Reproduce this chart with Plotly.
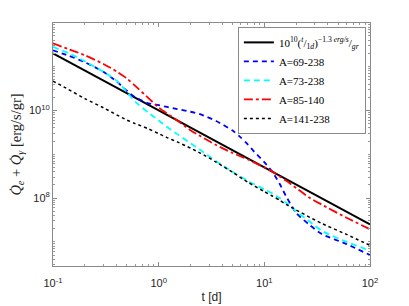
import plotly.graph_objects as go

# ---- data ----
t_fit = [0.1, 1.0, 10.0, 100.0]
q_fit = [2.0e11, 1.0e10, 5.0e8, 2.5e7]

t_grid = [0.1, 0.14, 0.2, 0.3, 0.4, 0.5, 0.6, 0.8, 1.0, 1.2, 1.5, 2.0, 2.5, 3.5,
          5.0, 7.0, 10.0, 12.0, 14.0, 16.0, 20.0, 27.0, 35.0, 60.0, 100.0]

q_85_140 = [3.39e11, 2.51e11, 1.82e11, 1.15e11, 7.76e10, 5.37e10, 3.63e10, 1.91e10,
            1.17e10, 8.51e9, 5.89e9, 3.55e9, 2.57e9, 1.62e9, 1.07e9, 7.59e8, 5.01e8,
            3.98e8, 3.09e8, 2.51e8, 1.70e8, 1.00e8, 7.08e7, 3.55e7, 1.95e7]

t_blue = [0.1, 0.14, 0.2, 0.3, 0.4, 0.5, 0.6, 0.8, 1.0, 1.2, 1.5, 2.0, 2.5, 3.5,
          5.0, 6.0, 7.0, 8.0, 10.0, 12.0, 14.0, 16.0, 20.0, 27.0, 35.0, 60.0, 100.0]
q_69_238 = [2.34e11, 1.78e11, 1.26e11, 7.59e10, 4.57e10, 2.82e10, 2.00e10, 1.45e10,
            1.32e10, 1.20e10, 1.07e10, 9.33e9, 8.13e9, 5.75e9, 3.47e9, 2.40e9, 1.66e9,
            1.15e9, 6.61e8, 3.89e8, 2.09e8, 1.12e8, 4.57e7, 2.40e7, 1.51e7, 8.91e6, 5.01e6]

t_cyan = [0.1, 0.14, 0.2, 0.3, 0.4, 0.5, 0.6, 0.8, 1.0, 1.2, 1.5, 2.0, 2.5, 3.5,
          5.0, 7.0, 10.0, 12.0, 14.0, 16.0, 20.0, 27.0, 35.0, 60.0, 100.0]
q_73_238 = [2.82e11, 2.04e11, 1.32e11, 7.59e10, 4.79e10, 2.63e10, 1.58e10, 8.91e9,
            5.89e9, 4.17e9, 2.88e9, 1.78e9, 1.23e9, 6.92e8, 3.98e8, 2.45e8, 1.58e8,
            1.26e8, 1.00e8, 7.94e7, 5.01e7, 2.88e7, 1.78e7, 1.00e7, 6.31e6]

q_141_238 = [4.68e10, 3.02e10, 1.86e10, 1.15e10, 7.94e9, 6.03e9, 5.01e9, 3.80e9,
             2.95e9, 2.40e9, 1.91e9, 1.38e9, 1.05e9, 6.61e8, 3.89e8, 2.29e8, 1.41e8,
             1.10e8, 8.91e7, 7.24e7, 5.37e7, 3.63e7, 2.63e7, 1.48e7, 8.32e6]

x_tickvals = [0.1, 1, 10, 100]
x_ticktext = ["10<sup>-1</sup>", "10<sup>0</sup>", "10<sup>1</sup>", "10<sup>2</sup>"]
y_tickvals = [1e8, 1e10]
y_ticktext = ["10<sup>8</sup>", "10<sup>10</sup>"]

series_names = [
    "10<sup>10</sup>(<sup><i>t</i></sup>/<sub>1<i>d</i></sub>)<sup>−1.3 <i>erg/s</i></sup>/<sub><i>gr</i></sub>",
    "A=69-238", "A=73-238", "A=85-140", "A=141-238",
]

fig = go.Figure()
fig.add_trace(go.Scatter(x=t_fit, y=q_fit, mode="lines", name=series_names[0],
                         line=dict(color="black", width=2)))
fig.add_trace(go.Scatter(x=t_blue, y=q_69_238, mode="lines", name=series_names[1],
                         line=dict(color="#0000FF", width=1.8, dash="5px,4px", shape="spline", smoothing=0.6)))
fig.add_trace(go.Scatter(x=t_cyan, y=q_73_238, mode="lines", name=series_names[2],
                         line=dict(color="#00FFFF", width=1.8, dash="6px,4px", shape="spline", smoothing=0.6)))
fig.add_trace(go.Scatter(x=t_grid, y=q_85_140, mode="lines", name=series_names[3],
                         line=dict(color="#FF0000", width=1.8, dash="dashdot", shape="spline", smoothing=0.6)))
fig.add_trace(go.Scatter(x=t_grid, y=q_141_238, mode="lines", name=series_names[4],
                         line=dict(color="black", width=1.5, dash="dot", shape="spline", smoothing=0.6)))

axis_common = dict(
    showline=True, linecolor="#8a8a8a", linewidth=1, mirror="ticks",
    ticks="inside", ticklen=4, tickcolor="#8a8a8a", showgrid=False, zeroline=False,
    tickmode="array",
    tickfont=dict(family="Liberation Sans", size=11, color="#262626"),
    minor=dict(ticks="inside", ticklen=2, tickcolor="#9a9a9a", dtick="D1", showgrid=False),
)

fig.update_xaxes(type="log", range=[-1, 2], tickvals=x_tickvals, ticktext=x_ticktext, **axis_common,
                 ticklabelstandoff=7,
                 title=dict(text="t [d]", font=dict(family="Liberation Sans", size=12, color="#262626"),
                            standoff=4))
fig.update_yaxes(type="log", range=[6.45, 11.995], tickvals=y_tickvals, ticktext=y_ticktext, **axis_common,
                 title=dict(text="<i>Q̇<sub>e</sub></i> + <i>Q̇<sub>γ</sub></i> [erg/s/gr]",
                            font=dict(family="Liberation Serif", size=14.5, color="#262626"),
                            standoff=3))

# the page body adds an 8px offset; margins compensate so the plot box lands at x 53-370, y 23-266
fig.update_layout(
    width=409, height=306,
    margin=dict(l=45, r=47, t=15, b=48, autoexpand=False),
    plot_bgcolor="white", paper_bgcolor="white",
    legend=dict(x=0.987, y=0.984, xanchor="right", yanchor="top",
                bgcolor="white", bordercolor="#8a8a8a", borderwidth=1,
                font=dict(family="Liberation Serif", size=11, color="black"),
                tracegroupgap=0, itemwidth=30),
    showlegend=True,
)

fig.write_html("out.html")
